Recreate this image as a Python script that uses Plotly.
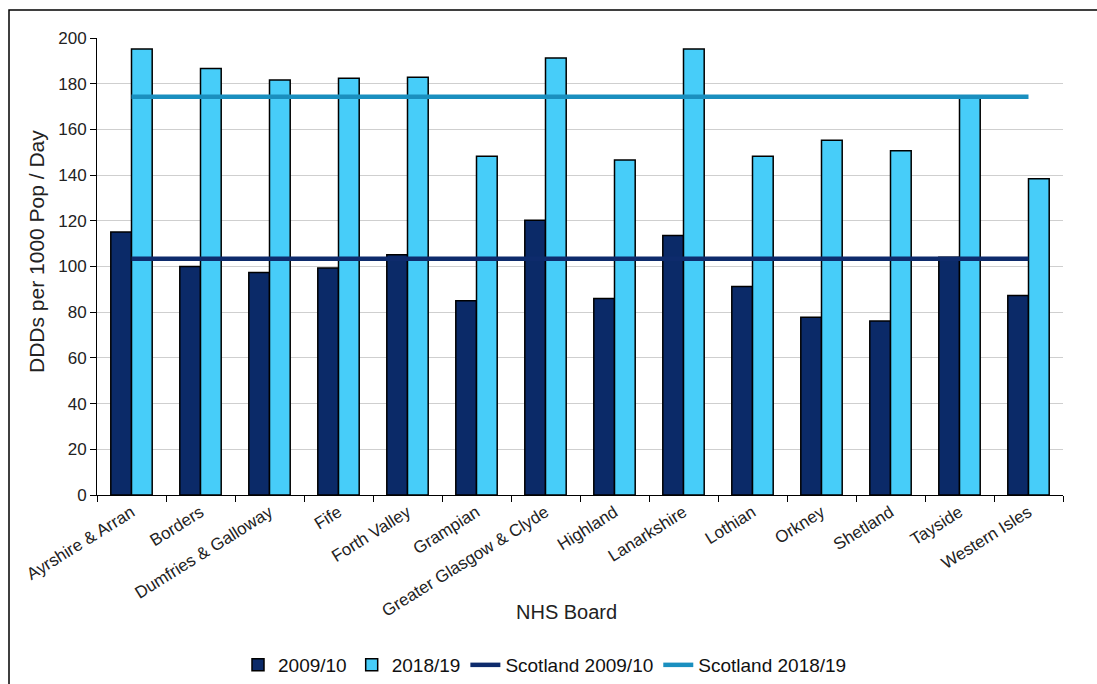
import plotly.graph_objects as go

boards = ["Ayrshire & Arran", "Borders", "Dumfries & Galloway", "Fife", "Forth Valley",
          "Grampian", "Greater Glasgow & Clyde", "Highland", "Lanarkshire", "Lothian",
          "Orkney", "Shetland", "Tayside", "Western Isles"]
v_2009 = [115.1, 100.0, 97.4, 99.3, 105.1, 85.0, 120.2, 86.0, 113.6, 91.2, 77.8, 76.2, 104.0, 87.3]
v_2018 = [195.2, 186.6, 181.6, 182.4, 182.8, 148.2, 191.3, 146.6, 195.2, 148.2, 155.2, 150.7, 173.8, 138.4]
scot_2009 = 103.4
scot_2018 = 174.3
y_ticks = [0, 20, 40, 60, 80, 100, 120, 140, 160, 180, 200]

DARK = "#0B2A68"
LIGHT = "#47CDF9"
LINE09 = "#0E2B6C"
LINE18 = "#1A8FBF"
FONT = "Liberation Sans, Arial, sans-serif"

fig = go.Figure()
fig.add_trace(go.Bar(x=boards, y=v_2009, name="2009/10", marker=dict(color=DARK, line=dict(color="#000000", width=1.5))))
fig.add_trace(go.Bar(x=boards, y=v_2018, name="2018/19", marker=dict(color=LIGHT, line=dict(color="#000000", width=1.5))))
fig.add_trace(go.Scatter(x=boards, y=[scot_2009] * len(boards), name="Scotland 2009/10", mode="lines",
                         line=dict(color=LINE09, width=4.5)))
fig.add_trace(go.Scatter(x=boards, y=[scot_2018] * len(boards), name="Scotland 2018/19", mode="lines",
                         line=dict(color=LINE18, width=4.5)))

W, H = 1097, 684
L, R, T, B = 97, 1063, 38, 495
pw, ph = R - L, B - T
fig.update_layout(
    width=W, height=H,
    margin=dict(l=L, r=W - R, t=T, b=H - B, autoexpand=False),
    paper_bgcolor="white", plot_bgcolor="white",
    barmode="group", bargap=0.4, bargroupgap=0,
    font=dict(family=FONT, size=15, color="#222222"),
    legend=dict(orientation="h", x=(545 - L) / pw, xanchor="center", y=-(665 - B) / ph, yanchor="middle",
                font=dict(size=19, color="#111111"), itemwidth=30, traceorder="normal"),
    showlegend=True,
)
fig.update_xaxes(
    automargin=False,
    showline=True, linecolor="#000000", linewidth=1,
    ticks="outside", ticklen=6, tickcolor="#000000", tickson="boundaries",
    tickangle=-32, tickfont=dict(size=17, color="#222222"),
    showgrid=False,
)
fig.update_yaxes(
    automargin=False,
    range=[0, 200], tickvals=y_ticks, showline=True, linecolor="#000000", linewidth=1,
    ticks="outside", ticklen=6, tickcolor="#000000",
    gridcolor="#CFCFCF", gridwidth=1, tickfont=dict(size=17, color="#222222"),
    zeroline=False,
)
fig.add_annotation(text="DDDs per 1000 Pop / Day", textangle=-90, showarrow=False,
                   xref="paper", yref="paper", x=(36 - L) / pw, y=(B - 252) / ph,
                   xanchor="center", yanchor="middle", font=dict(size=21, color="#222222"))
fig.add_annotation(text="NHS Board", showarrow=False,
                   xref="paper", yref="paper", x=(566 - L) / pw, y=(B - 612) / ph,
                   xanchor="center", yanchor="middle", font=dict(size=20, color="#222222"))
# outer frame
fig.add_shape(type="rect", xref="paper", yref="paper",
              x0=(9 - L) / pw, x1=(W + 30 - L) / pw, y0=(B - (H + 30)) / ph, y1=(B - 10) / ph,
              line=dict(color="#000000", width=1.5), fillcolor="rgba(0,0,0,0)", layer="below")
fig.write_html("out.html")
